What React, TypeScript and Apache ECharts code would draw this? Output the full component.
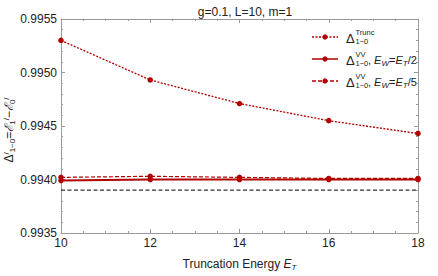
import React, { useEffect, useRef } from "react";
import * as echarts from "echarts";

const truncationEnergy = [10, 12, 14, 16, 18];
const deltaTrunc = [0.9953, 0.99493, 0.99471, 0.99455, 0.99443];
const deltaVVHalf = [0.99399, 0.994, 0.994, 0.994, 0.994];
const deltaVVFifth = [0.99402, 0.99403, 0.99402, 0.99401, 0.99401];
const exactValue = 0.9939;
const xTicks = [10, 12, 14, 16, 18];
const yTicks = [0.9935, 0.994, 0.9945, 0.995, 0.9955];

const RED = "#B20000";
const AXIS = "#9a9a9a";
const FONT = "Liberation Sans";

const pairs = (ys: number[]) => truncationEnergy.map((x, i) => [x, ys[i]]);

export default function App() {
  const ref = useRef<HTMLDivElement>(null);
  useEffect(() => {
    document.body.style.margin = "0";
    if (!ref.current) return;
    const chart = echarts.init(ref.current, undefined, { renderer: "svg" });
    const axisCommon = {
      axisLine: { show: true, lineStyle: { color: AXIS, width: 1 } },
      axisTick: { show: true, inside: true, length: 4, lineStyle: { color: AXIS } },
      minorTick: { show: true, length: 2, lineStyle: { color: AXIS } },
      splitLine: { show: false },
    };
    const mkRich = (fs: number) => ({
      n: { fontFamily: FONT, fontSize: fs, color: "#222" },
      i: { fontFamily: FONT, fontSize: fs, fontStyle: "italic", color: "#222" },
      s: { fontFamily: FONT, fontSize: 8, fontStyle: "italic", color: "#222", verticalAlign: "bottom", padding: [6, 0, 0, 0] },
      sup: { fontFamily: FONT, fontSize: 8, color: "#222", verticalAlign: "top", padding: [0, 0, 6, 0] },
      sub: { fontFamily: FONT, fontSize: 8, color: "#222", verticalAlign: "bottom", padding: [6, 0, 0, 0] },
    });
    const rich = mkRich(12);
    const legendRich = mkRich(11);
    const legendItem = (y: number, dash: number[] | null, sup: string, extra: string) => {
      const children: any[] = [
        {
          type: "line",
          shape: { x1: 312, y1: y, x2: 338, y2: y },
          style: { stroke: RED, lineWidth: 1.5, lineDash: dash || undefined },
        },
        { type: "circle", shape: { cx: 325, cy: y, r: 2.6 }, style: { fill: RED } },
        {
          type: "text",
          x: 346,
          y: y + 1,
          style: { text: "Δ", font: `13px ${FONT}`, fill: "#222", verticalAlign: "middle" },
        },
        {
          type: "text",
          x: 355.5,
          y: y - 5,
          style: { text: sup, font: `7.5px ${FONT}`, fill: "#222", verticalAlign: "middle" },
        },
        {
          type: "text",
          x: 355.5,
          y: y + 4.5,
          style: { text: "1−0", font: `7.5px ${FONT}`, fill: "#222", verticalAlign: "middle" },
        },
      ];
      if (extra) {
        children.push({
          type: "text",
          x: 368,
          y: y + 1,
          style: {
            text: extra,
            rich: legendRich,
            font: `11px ${FONT}`,
            fill: "#222",
            verticalAlign: "middle",
          },
        });
      }
      return { type: "group", children };
    };
    chart.setOption({
      animation: false,
      backgroundColor: "#fff",
      title: {
        text: "g=0.1, L=10, m=1",
        left: 240,
        top: 1,
        textAlign: "center",
        textStyle: { fontFamily: FONT, fontSize: 12, fontWeight: "normal", color: "#222" },
      },
      grid: { left: 61, right: 20, top: 19, bottom: 38 },
      xAxis: [
        {
          type: "value",
          min: 10,
          max: 18,
          interval: 2,
          ...axisCommon,
          minorTick: { ...axisCommon.minorTick, splitNumber: 4 },
          axisLabel: {
            show: true,
            fontFamily: FONT,
            fontSize: 12,
            color: "#222",
            margin: 4,
            customValues: xTicks,
          },
          name: "Truncation Energy {i|E}{s|T}",
          nameLocation: "middle",
          nameGap: 24,
          nameTextStyle: { fontFamily: FONT, fontSize: 12, color: "#222", rich },
        },
        {
          type: "value",
          position: "top",
          min: 10,
          max: 18,
          interval: 2,
          ...axisCommon,
          minorTick: { ...axisCommon.minorTick, splitNumber: 4 },
          axisLabel: { show: false },
        },
      ],
      yAxis: [
        {
          type: "value",
          min: 0.9935,
          max: 0.9955,
          interval: 0.0005,
          ...axisCommon,
          minorTick: { ...axisCommon.minorTick, splitNumber: 5 },
          axisLabel: {
            fontFamily: FONT,
            fontSize: 12,
            color: "#222",
            margin: 4,
            customValues: yTicks,
            formatter: (v: number) => v.toFixed(4),
          },
        },
        {
          type: "value",
          position: "right",
          min: 0.9935,
          max: 0.9955,
          interval: 0.0005,
          ...axisCommon,
          minorTick: { ...axisCommon.minorTick, splitNumber: 5 },
          axisLabel: { show: false },
        },
      ],
      series: [
        {
          type: "line",
          name: "exact",
          data: [
            [truncationEnergy[0], exactValue],
            [truncationEnergy[truncationEnergy.length - 1], exactValue],
          ],
          symbol: "none",
          lineStyle: { color: "#333", width: 1.2, type: [4, 2.5] },
          z: 1,
        },
        {
          type: "line",
          name: "VV half",
          data: pairs(deltaVVHalf),
          symbol: "circle",
          symbolSize: 5.5,
          itemStyle: { color: RED },
          lineStyle: { color: RED, width: 2 },
          z: 2,
        },
        {
          type: "line",
          name: "VV fifth",
          data: pairs(deltaVVFifth),
          symbol: "circle",
          symbolSize: 5.5,
          itemStyle: { color: RED },
          lineStyle: { color: RED, width: 1.2, type: [4, 2] },
          z: 3,
        },
        {
          type: "line",
          name: "Trunc",
          data: pairs(deltaTrunc),
          symbol: "circle",
          symbolSize: 5.5,
          itemStyle: { color: RED },
          lineStyle: { color: RED, width: 1.3, type: [2, 1.5] },
          z: 3,
        },
      ],
      graphic: [
        legendItem(37, [2, 1.5], "Trunc", ""),
        legendItem(59, null, "VV", "{n|, }{i|E}{s|W}{n|=}{i|E}{s|T}{n|/2}"),
        legendItem(81, [4, 2], "VV", "{n|, }{i|E}{s|W}{n|=}{i|E}{s|T}{n|/5}"),
        {
          type: "text",
          x: 9,
          y: 130,
          rotation: Math.PI / 2,
          style: {
            text: "Δ{sup|/}{sub|1−0}{n|=}{i|ℰ}{sub|1}{sup|/}{n|−}{i|ℰ}{sub|0}{sup|/}",
            rich,
            font: `12px ${FONT}`,
            fill: "#222",
            align: "center",
            verticalAlign: "middle",
          },
        },
      ],
    });
    return () => chart.dispose();
  }, []);
  return <div ref={ref} style={{ width: 438, height: 276 }} />;
}
